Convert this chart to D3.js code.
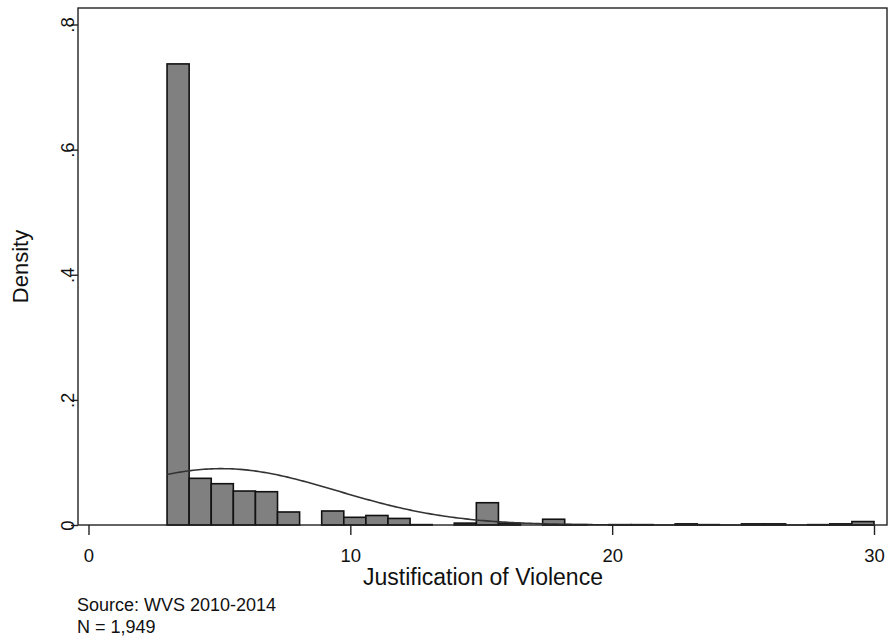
<!DOCTYPE html>
<html>
<head>
<meta charset="utf-8">
<script src="https://cdn.jsdelivr.net/npm/d3@7"></script>
<style>
  html, body { margin: 0; padding: 0; background: #fff; }
  svg { display: block; font-family: Arial, "Liberation Sans", Helvetica, sans-serif; }
</style>
</head>
<body>
<svg id="chart" width="890" height="640"></svg>
<script>
// Histogram of the justification-of-violence index (32 bins from 3 to 30)
const binStart = 3;
const binWidth = 0.84375;
const densities = [
  0.737, 0.0746, 0.066, 0.0543, 0.0532, 0.0208, 0, 0.0224,
  0.0123, 0.0152, 0.0105, 0.0006, 0, 0.003, 0.0356, 0.003,
  0, 0.0092, 0.0006, 0, 0.0006, 0.0006, 0, 0.0018,
  0.0006, 0, 0.0018, 0.0018, 0, 0.0006, 0.0018, 0.0055
];

// Overlaid normal density (sample mean and standard deviation)
const normalMean = 5.07;
const normalSD = 4.43;
const normalRange = [3, 30];

// Axis ticks and labels
const xTicks = [0, 10, 20, 30];
const yTicks = [0, 0.2, 0.4, 0.6, 0.8];
const yTickLabels = ["0", ".2", ".4", ".6", ".8"];

const xTitle = "Justification of Violence";
const yTitle = "Density";
const notes = ["Source: WVS 2010-2014", "N = 1,949"];

// ---- layout ----
const svg = d3.select("#chart");
const frame = { left: 78, right: 887, top: 8, bottom: 525 };

const x = d3.scaleLinear().domain([0, 30]).range([88.5, 874]);
const y = d3.scaleLinear().domain([0, 0.8]).range([frame.bottom, 24.5]);

const bins = densities.map((d, i) => ({
  x0: binStart + i * binWidth,
  x1: binStart + (i + 1) * binWidth,
  density: d
}));

// bars
svg.append("g")
  .selectAll("rect")
  .data(bins.filter(b => b.density > 0))
  .join("rect")
  .attr("x", b => x(b.x0))
  .attr("width", b => x(b.x1) - x(b.x0))
  .attr("y", b => y(b.density))
  .attr("height", b => y(0) - y(b.density))
  .attr("fill", "#808080")
  .attr("stroke", "#111")
  .attr("stroke-width", 1.6);

// normal curve
const normalPdf = v => Math.exp(-0.5 * ((v - normalMean) / normalSD) ** 2) /
  (normalSD * Math.sqrt(2 * Math.PI));
const curveX = d3.range(normalRange[0], normalRange[1] + 0.001, 0.1);
svg.append("path")
  .datum(curveX)
  .attr("fill", "none")
  .attr("stroke", "#333")
  .attr("stroke-width", 1.6)
  .attr("d", d3.line().x(v => x(v)).y(v => y(normalPdf(v))));

// plot frame
svg.append("rect")
  .attr("x", frame.left)
  .attr("y", frame.top)
  .attr("width", frame.right - frame.left)
  .attr("height", frame.bottom - frame.top)
  .attr("fill", "none")
  .attr("stroke", "#222")
  .attr("stroke-width", 1.4);

// x axis
const xAxis = svg.append("g")
  .attr("transform", `translate(0,${frame.bottom})`)
  .call(d3.axisBottom(x).tickValues(xTicks).tickSize(10).tickFormat(d3.format("d")));
xAxis.select(".domain").remove();
xAxis.selectAll(".tick line").attr("stroke", "#222").attr("stroke-width", 1.4);
xAxis.selectAll(".tick text")
  .attr("y", 36.5).attr("dy", null)
  .attr("font-size", 18.5).attr("fill", "#111")
  .attr("font-family", "Arial, 'Liberation Sans', sans-serif");

// y axis
const yAxis = svg.append("g")
  .attr("transform", `translate(${frame.left},0)`)
  .call(d3.axisLeft(y).tickValues(yTicks).tickSize(7)
    .tickFormat((d, i) => yTickLabels[i]));
yAxis.select(".domain").remove();
yAxis.selectAll(".tick line").attr("stroke", "#222").attr("stroke-width", 1.4);
yAxis.selectAll(".tick text")
  .attr("x", null).attr("dy", null)
  .attr("transform", "translate(-4,0) rotate(-90)")
  .attr("text-anchor", "middle")
  .attr("font-size", 18.5).attr("fill", "#111")
  .attr("font-family", "Arial, 'Liberation Sans', sans-serif");

// axis titles
svg.append("text")
  .attr("x", (frame.left + frame.right) / 2 + 0.5)
  .attr("y", 585)
  .attr("text-anchor", "middle")
  .attr("font-size", 23)
  .attr("fill", "#111")
  .text(xTitle);

svg.append("text")
  .attr("transform", `translate(28,${(frame.top + frame.bottom) / 2}) rotate(-90)`)
  .attr("text-anchor", "middle")
  .attr("font-size", 22)
  .attr("fill", "#111")
  .text(yTitle);

// notes
svg.append("g")
  .selectAll("text")
  .data(notes)
  .join("text")
  .attr("x", 77)
  .attr("y", (d, i) => 611 + i * 21.5)
  .attr("font-size", 18)
  .attr("fill", "#111")
  .text(d => d);
</script>
</body>
</html>
